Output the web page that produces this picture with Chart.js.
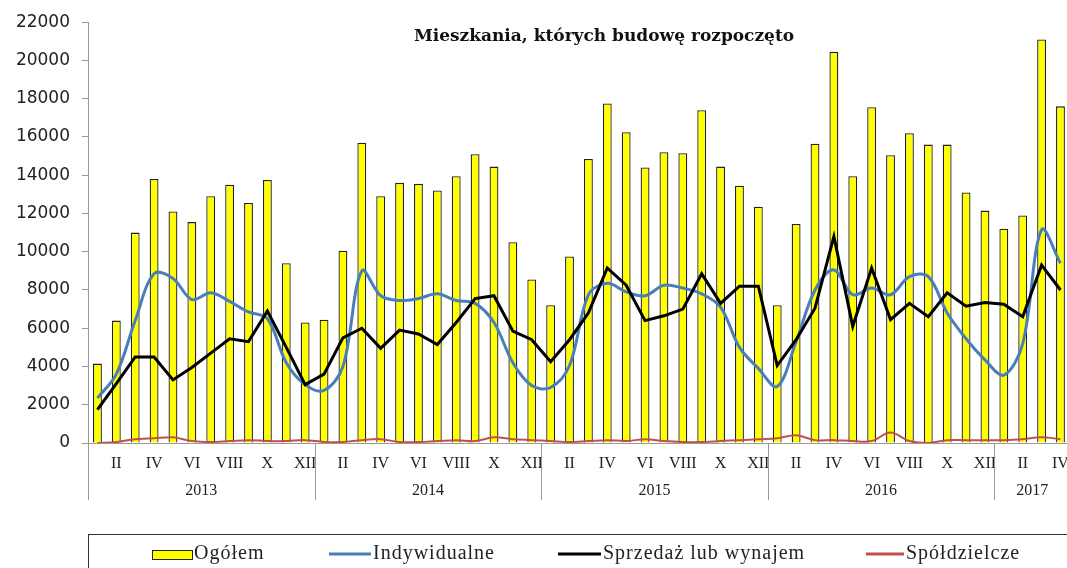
<!DOCTYPE html>
<html>
<head>
<meta charset="utf-8">
<script src="https://cdn.jsdelivr.net/npm/chart.js@4"></script>
<style>
  html, body { margin: 0; padding: 0; background: #fff; overflow: hidden; }
  canvas { position: absolute; left: 0; top: 0; }
</style>
</head>
<body>
<canvas id="chart" width="1080" height="568"></canvas>
<script>
// Months Jan 2013 - Apr 2017
const months = ['I','II','III','IV','V','VI','VII','VIII','IX','X','XI','XII'];
const years = ['2013', '2014', '2015', '2016', '2017'];
const monthsPerYear = [12, 12, 12, 12, 4];

const ogolem = [
  4150, 6400, 11000, 13800, 12100, 11550, 12900, 13500, 12550, 13750, 9400, 6300,
  6450, 10050, 15700, 12900, 13600, 13550, 13200, 13950, 15100, 14450, 10500, 8550,
  7200, 9750, 14850, 17750, 16250, 14400, 15200, 15150, 17400, 14450, 13450, 12350,
  7200, 11450, 15650, 20450, 13950, 17550, 15050, 16200, 15600, 15600, 13100, 12150,
  11200, 11900, 21100, 17600
];
const indywidualne = [
  2350, 3600, 6400, 8850, 8600, 7500, 7850, 7400, 6850, 6500, 4200, 3050,
  2750, 4000, 9000, 7700, 7450, 7550, 7800, 7450, 7300, 6300, 4200, 3000,
  2900, 4050, 7750, 8350, 7900, 7700, 8250, 8100, 7800, 7100, 5000, 3900,
  2950, 5300, 8000, 9050, 7750, 8100, 7750, 8700, 8700, 6800, 5450, 4350,
  3550, 5200, 11150, 9400
];
const sprzedaz = [
  1750, 3100, 4500, 4500, 3300, 3950, 4700, 5450, 5300, 6900, 5000, 3050,
  3600, 5500, 6000, 4950, 5900, 5700, 5150, 6300, 7550, 7700, 5850, 5400,
  4250, 5400, 6800, 9150, 8250, 6400, 6650, 7000, 8850, 7300, 8200, 8200,
  4050, 5400, 7050, 10800, 6100, 9150, 6450, 7300, 6600, 7850, 7150, 7350,
  7250, 6600, 9300, 8000
];
const spoldzielcze = [
  0, 50, 200, 250, 300, 100, 50, 100, 150, 100, 100, 150,
  50, 50, 150, 200, 50, 50, 100, 150, 100, 300, 200, 150,
  100, 50, 100, 150, 100, 200, 100, 50, 50, 100, 150, 200,
  250, 400, 150, 150, 100, 100, 550, 100, 0, 150, 150, 150,
  150, 200, 300, 200
];

// one category per month
const labels = [];
years.forEach((y, i) => {
  for (let m = 0; m < monthsPerYear[i]; m++) labels.push(months[m] + ' ' + y);
});

const serif = '"Liberation Serif", "DejaVu Serif", serif';

// legend layout (x of the key mark and its length)
const legendKeys = [
  {x: 152, w: 40},
  {x: 329, w: 42},
  {x: 558, w: 43},
  {x: 866, w: 38}
];

// title, year groups and the boxed legend
const extras = {
  id: 'extras',
  afterDraw(chart) {
    const {ctx, scales: {x}, chartArea} = chart;
    const step = x.getPixelForValue(1) - x.getPixelForValue(0);
    ctx.save();

    // title
    ctx.fillStyle = '#111';
    ctx.font = 'bold 17px "DejaVu Serif", serif';
    ctx.textAlign = 'center';
    ctx.textBaseline = 'middle';
    ctx.fillText('Mieszkania, których budowę rozpoczęto', 604, 37);

    // year separators and labels
    ctx.strokeStyle = '#999';
    ctx.lineWidth = 1;
    ctx.font = '16px ' + serif;
    ctx.fillStyle = '#222';
    let start = 0;
    years.forEach((yr, i) => {
      const n = monthsPerYear[i];
      const left = x.getPixelForValue(start) - step / 2;
      const right = x.getPixelForValue(start + n - 1) + step / 2;
      const lx = Math.round(left) + 0.5;
      ctx.beginPath();
      ctx.moveTo(lx, chartArea.bottom);
      ctx.lineTo(lx, 500);
      ctx.stroke();
      ctx.fillText(yr, (left + right) / 2, 491);
      start += n;
    });

    // legend
    ctx.strokeStyle = '#333';
    ctx.strokeRect(88.5, 534.5, 1000, 60);
    ctx.font = '20px ' + serif;
    ctx.letterSpacing = '1px';
    ctx.textAlign = 'left';
    const cy = 554;
    chart.data.datasets.forEach((ds, i) => {
      const k = legendKeys[i];
      if (ds.type === 'bar') {
        ctx.fillStyle = ds.backgroundColor;
        ctx.fillRect(k.x, cy - 4, k.w, 9);
        ctx.strokeStyle = '#222';
        ctx.strokeRect(k.x + 0.5, cy - 3.5, k.w, 9);
      } else {
        ctx.strokeStyle = ds.borderColor;
        ctx.lineWidth = 3;
        ctx.beginPath();
        ctx.moveTo(k.x, cy);
        ctx.lineTo(k.x + k.w, cy);
        ctx.stroke();
        ctx.lineWidth = 1;
      }
      ctx.fillStyle = '#222';
      ctx.fillText(ds.label, k.x + k.w + 2, cy);
    });
    ctx.restore();
  }
};

new Chart(document.getElementById('chart'), {
  data: {
    labels: labels,
    datasets: [
      {
        type: 'bar', label: 'Ogółem', data: ogolem,
        backgroundColor: '#ffff00', borderColor: '#222', borderWidth: 1.3,
        barPercentage: 0.47, categoryPercentage: 1, order: 4
      },
      {
        type: 'line', label: 'Indywidualne', data: indywidualne,
        borderColor: '#4a7ebb', borderWidth: 3, tension: 0.35,
        pointRadius: 0, order: 3
      },
      {
        type: 'line', label: 'Sprzedaż lub wynajem', data: sprzedaz,
        borderColor: '#000', borderWidth: 3, tension: 0,
        pointRadius: 0, order: 2
      },
      {
        type: 'line', label: 'Spółdzielcze', data: spoldzielcze,
        borderColor: '#c0504d', borderWidth: 2, tension: 0.35,
        pointRadius: 0, order: 1
      }
    ]
  },
  options: {
    responsive: false,
    animation: false,
    layout: { padding: { top: 22, right: 9, left: 0, bottom: 0 } },
    plugins: {
      legend: { display: false },
      tooltip: { enabled: false }
    },
    scales: {
      x: {
        afterFit: (s) => { s.height = 125; },
        grid: { display: true, drawOnChartArea: false, drawTicks: false },
        border: { display: true, color: '#999', width: 1 },
        ticks: {
          autoSkip: false, maxRotation: 0, padding: 11,
          color: '#222', font: { family: serif, size: 16 },
          callback: (v, i) => (i % 2 === 1 ? months[i % 12] : '')
        }
      },
      y: {
        min: 0, max: 22000,
        afterFit: (s) => { s.width = 88; },
        grid: { display: true, drawOnChartArea: false, drawTicks: true, tickLength: 6, color: '#999' },
        border: { display: true, color: '#999', width: 1 },
        ticks: {
          stepSize: 2000, padding: 12, color: '#222',
          font: { family: '"DejaVu Sans", sans-serif', size: 17 },
          callback: (v) => String(v)
        }
      }
    }
  },
  plugins: [extras]
});
</script>
</body>
</html>
